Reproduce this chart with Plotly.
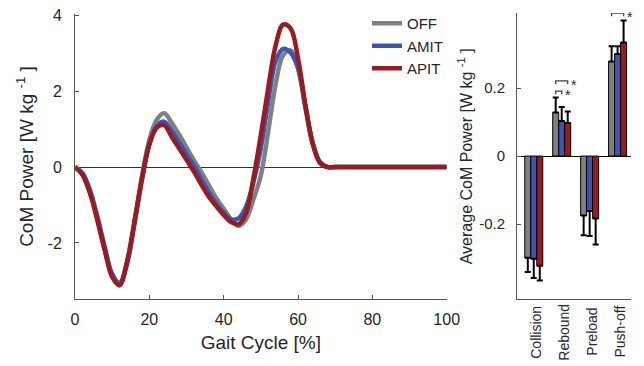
import plotly.graph_objects as go

# ---------------- data ----------------
gait_pct = [0, 2, 4, 6, 8, 10, 12, 14, 16, 18, 20, 22, 24, 26, 28, 30, 32, 34, 36, 38,
            40, 42, 44, 46, 48, 50, 52, 54, 56, 58, 60, 62, 64, 66, 68, 70, 75, 80, 85,
            90, 95, 100]
off_power = [0, -0.18, -0.66, -1.37, -2.17, -2.86, -3.08, -2.5, -1.45, -0.25, 0.72, 1.25,
             1.42, 1.17, 0.86, 0.52, 0.18, -0.13, -0.48, -0.82, -1.1, -1.38, -1.55, -1.38,
             -0.85, -0.22, 0.95, 2.2, 2.95, 3.08, 2.6, 1.55, 0.6, 0.1, 0.0, 0, 0, 0, 0, 0, 0, 0]
amit_power = [0, -0.15, -0.6, -1.3, -2.1, -2.82, -3.05, -2.55, -1.5, -0.35, 0.6, 1.08,
              1.2, 0.96, 0.66, 0.34, 0.03, -0.32, -0.67, -0.96, -1.2, -1.38, -1.35, -1.05,
              -0.4, 0.5, 1.75, 2.8, 3.12, 3.02, 2.62, 1.6, 0.62, 0.12, 0.0, 0, 0, 0, 0, 0, 0, 0]
apit_power = [0, -0.2, -0.68, -1.4, -2.2, -2.9, -3.12, -2.5, -1.43, -0.3, 0.6, 1.04,
              1.11, 0.8, 0.5, 0.19, -0.12, -0.46, -0.78, -1.03, -1.26, -1.45, -1.51, -1.22,
              -0.3, 0.85, 2.1, 3.22, 3.76, 3.66, 2.87, 1.63, 0.6, 0.1, 0.0, 0, 0, 0, 0, 0, 0, 0]

conditions = ["OFF", "AMIT", "APIT"]
colors = ["#808080", "#3a55b4", "#9a1b1f"]

phases = ["Collision", "Rebound", "Preload", "Push-off"]
off_mean = [-0.299, 0.128, -0.175, 0.278]
off_err = [0.042, 0.044, 0.058, 0.045]
amit_mean = [-0.302, 0.103, -0.162, 0.300]
amit_err = [0.057, 0.041, 0.073, 0.023]
apit_mean = [-0.323, 0.097, -0.184, 0.334]
apit_err = [0.043, 0.034, 0.076, 0.065]

# significance brackets: phase index, condition from, condition to, bracket height
sig_phase = [1, 1, 3]
sig_from = [0, 0, 0]
sig_to = [1, 2, 2]
sig_height = [0.191, 0.221, 0.42]

left_xticks = [0, 20, 40, 60, 80, 100]
left_yticks = [-2, 0, 2, 4]
right_yticks = [-0.2, 0, 0.2]

# ---------------- figure ----------------
W, H = 644, 366
FONT = "Liberation Sans, Arial, sans-serif"
TXT = "#262626"
AX = "#555555"

fig = go.Figure()

series = [off_power, amit_power, apit_power]
for name, vals, col in zip(conditions, series, colors):
    fig.add_trace(go.Scatter(x=gait_pct, y=vals, mode="lines", name=name,
                             line=dict(color=col, width=4.5, shape="spline", smoothing=1.0),
                             xaxis="x", yaxis="y"))

means = [off_mean, amit_mean, apit_mean]
errs = [off_err, amit_err, apit_err]
for name, m, e, col in zip(conditions, means, errs, colors):
    plus = [ev if mv > 0 else 0 for mv, ev in zip(m, e)]
    minus = [ev if mv < 0 else 0 for mv, ev in zip(m, e)]
    fig.add_trace(go.Bar(x=list(range(len(phases))), y=m, name=name, showlegend=False,
                         marker=dict(color=col, line=dict(color="black", width=1)),
                         error_y=dict(type="data", symmetric=False, array=plus,
                                      arrayminus=minus, color="black", thickness=2, width=3),
                         xaxis="x2", yaxis="y2"))

bargap = 0.356
bw = (1 - bargap) / 3
offsets = [-bw, 0, bw]
leg = 0.009
shapes = []
annotations = []
for p, a, b, h in zip(sig_phase, sig_from, sig_to, sig_height):
    x0 = p + offsets[a]
    x1 = p + offsets[b]
    shapes.append(dict(type="path", xref="x2", yref="y2",
                       path=f"M {x0},{h - leg} L {x0},{h} L {x1},{h} L {x1},{h - leg}",
                       line=dict(color="#404040", width=1.3)))
    annotations.append(dict(x=x1, y=h, xref="x2", yref="y2", text="*", showarrow=False,
                            xanchor="center", yanchor="middle", xshift=6, yshift=-4,
                            font=dict(size=14, color=TXT, family=FONT)))

for i, ph in enumerate(phases):
    annotations.append(dict(x=i, y=(H - 332) / H, xref="x2", yref="paper", text=ph,
                            textangle=-90, showarrow=False, xanchor="center",
                            yanchor="middle", xshift=2,
                            font=dict(size=14, color=TXT, family=FONT)))

fig.update_layout(
    template="none",
    width=W, height=H,
    margin=dict(l=0, r=0, t=0, b=0, autoexpand=False),
    paper_bgcolor="white", plot_bgcolor="white",
    font=dict(family=FONT, color=TXT, size=16),
    showlegend=True,
    legend=dict(x=367 / W, y=1 - 7 / H, xanchor="left", yanchor="top",
                bgcolor="rgba(0,0,0,0)", font=dict(size=15, color=TXT, family=FONT),
                itemwidth=30, tracegroupgap=0),
    barmode="group", bargap=bargap, bargroupgap=0,
    xaxis=dict(domain=[75 / W, 446.7 / W], range=[0, 100], tickvals=left_xticks,
               ticktext=[str(t) for t in left_xticks], automargin=False,
               ticks="inside", ticklen=4, tickcolor=AX, showline=True, linecolor=AX,
               linewidth=1, showgrid=False, zeroline=False, anchor="y",
               tickfont=dict(size=16, color=TXT), ticklabelstandoff=6,
               title=dict(text="Gait Cycle [%]", font=dict(size=19, color=TXT), standoff=8)),
    yaxis=dict(domain=[(H - 299) / H, (H - 14) / H], range=[-3.48, 4.04],
               tickvals=left_yticks, ticktext=[str(t) for t in left_yticks],
               automargin=False,
               ticks="inside", ticklen=4, tickcolor=AX, showline=True, linecolor=AX,
               linewidth=1, showgrid=False, zeroline=True, zerolinecolor="#333333",
               zerolinewidth=1, anchor="x", tickfont=dict(size=16, color=TXT),
               ticklabelstandoff=9,
               title=dict(text="CoM Power [W kg <sup>-1</sup> ]",
                          font=dict(size=19, color=TXT), standoff=8)),
    xaxis2=dict(domain=[517 / W, 631 / W], range=[-0.6, 3.48],
                tickvals=list(range(len(phases))), showticklabels=False,
                automargin=False,
                ticks="", showline=True, linecolor=AX, linewidth=1, showgrid=False,
                zeroline=False, anchor="y2"),
    yaxis2=dict(domain=[(H - 299.3) / H, (H - 13.3) / H], range=[-0.4215, 0.42],
                tickvals=right_yticks, ticktext=[str(t) for t in right_yticks],
                automargin=False,
                ticks="inside", ticklen=4, tickcolor=AX, showline=True, linecolor=AX,
                linewidth=1, showgrid=False, zeroline=True, zerolinecolor="black",
                zerolinewidth=1, anchor="x2", tickfont=dict(size=15, color=TXT),
                ticklabelstandoff=8,
                title=dict(text="Average CoM Power [W kg <sup>-1</sup> ]",
                           font=dict(size=16, color=TXT), standoff=2)),
    shapes=shapes,
    annotations=annotations,
)

fig.write_html("out.html", config={"displayModeBar": False},
               post_script="document.body.style.margin='0';document.body.style.overflow='hidden';")
